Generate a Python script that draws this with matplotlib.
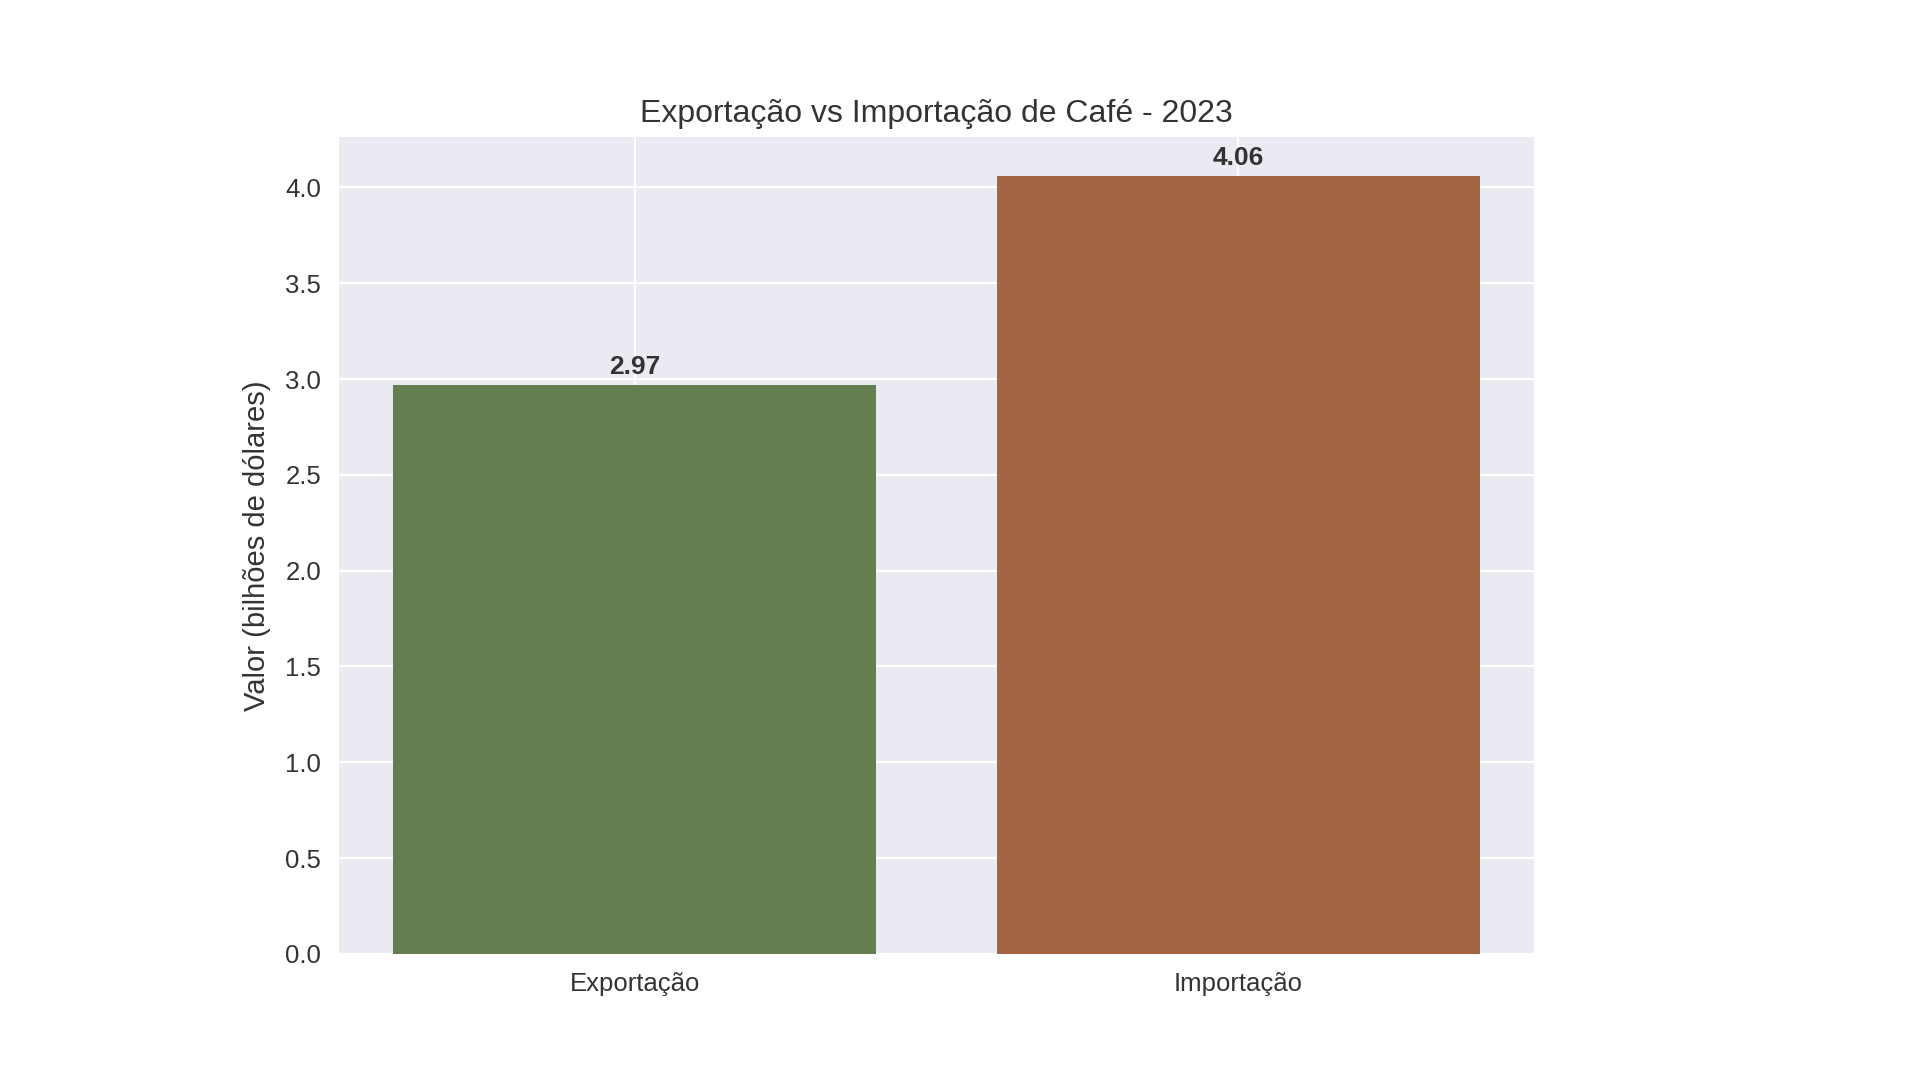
import matplotlib
matplotlib.use("Agg")
import matplotlib.pyplot as plt

categorias = ["Exportação", "Importação"]
valores = [2.97, 4.06]
cores = ["#637F50", "#A36541"]

plt.style.use("seaborn-v0_8-darkgrid")
plt.rcParams["font.family"] = ["Liberation Sans", "DejaVu Sans"]
texto = "#333333"

fig = plt.figure(figsize=(19.2, 10.8), dpi=100)
ax = fig.add_axes([0.1766, 0.1167, 0.6224, 0.7565])

barras = ax.bar(categorias, valores, color=cores)
for b, v in zip(barras, valores):
    ax.text(b.get_x() + b.get_width() / 2, v + 0.03, f"{v:.2f}",
            ha="center", va="bottom", fontsize=19, fontweight="bold", color=texto)

ax.set_title("Exportação vs Importação de Café - 2023", fontsize=23, color=texto, pad=11)
ax.set_ylabel("Valor (bilhões de dólares)", fontsize=21, color=texto, labelpad=10)
ax.tick_params(axis="both", labelsize=18.5, colors=texto, pad=13)
ax.grid(True, color="white", linewidth=1.6)

fig.savefig("out.png", dpi=100)
